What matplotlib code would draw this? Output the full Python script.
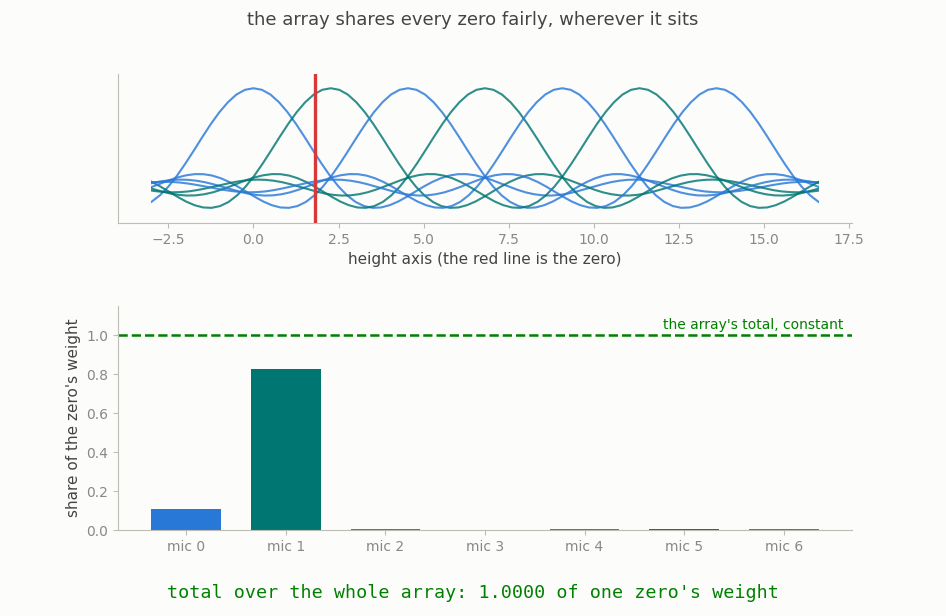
import numpy as np
import matplotlib
matplotlib.use("Agg")
import matplotlib.pyplot as plt
from matplotlib.patches import Rectangle


# mic positions along the height axis (peak of each response curve)
MIC_CENTERS = [0.0, 2.27, 4.54, 6.80, 9.07, 11.34, 13.60]
X_START, X_END = -3.0, 16.6
ZERO_X = 1.81          # where the red line sits
ZERO_GAP = 2.5         # distance from a peak to its first zero crossing

# shape of one mic's response, one value per 0.1 zero-gaps
PROFILE_STEP = 0.1
PROFILE = [
    1.000, 0.984, 0.936, 0.858, 0.757, 0.637, 0.505, 0.368, 0.234, 0.109,
    0.000, -0.089, -0.156, -0.198, -0.216, -0.212, -0.189, -0.152, -0.104, -0.052,
    0.000, 0.047, 0.085, 0.112, 0.126, 0.127, 0.116, 0.095, 0.067, 0.034,
    0.000, -0.032, -0.059, -0.078, -0.089, -0.091, -0.084, -0.070, -0.049, -0.025,
    0.000, 0.024, 0.045, 0.060, 0.069, 0.071, 0.066, 0.055, 0.039, 0.020,
    0.000, -0.019, -0.036, -0.049, -0.056, -0.058, -0.054, -0.045, -0.032, -0.017,
    0.000, 0.016, 0.030, 0.041, 0.047, 0.049, 0.046, 0.038, 0.028,
]

MIC_LABELS = ["mic 0", "mic 1", "mic 2", "mic 3", "mic 4", "mic 5", "mic 6"]
SHARES = [0.108, 0.826, 0.005, 0.0, 0.004, 0.004, 0.004]
TOTAL = 1.0

BG = "#fcfcfa"
BLUE = "#2878d8"
TEAL = "#007672"
SPINE = "#bdbdb5"
TICK_TXT = "#888888"
LABEL_TXT = "#444444"


def style_axes(ax):
    ax.set_facecolor(BG)
    for side in ("top", "right"):
        ax.spines[side].set_visible(False)
    for side in ("left", "bottom"):
        ax.spines[side].set_color(SPINE)
    ax.tick_params(colors=SPINE, labelcolor=TICK_TXT, labelsize=10)


fig = plt.figure(figsize=(9.46, 6.16), dpi=100, facecolor=BG)
ax_top = fig.add_axes([0.1247, 0.638, 0.7759, 0.2419])
ax_bar = fig.add_axes([0.1247, 0.1396, 0.7759, 0.3636])

# --- top: every mic's response curve -------------------------------------
t = np.arange(len(PROFILE)) * PROFILE_STEP
prof = np.array(PROFILE)
full_t = np.concatenate([-t[:0:-1], t])
full_v = np.concatenate([prof[:0:-1], prof])

style_axes(ax_top)
for i, c in enumerate(MIC_CENTERS):
    colour = BLUE if i % 2 == 0 else TEAL
    line, = ax_top.plot(c + full_t * ZERO_GAP, full_v, color=colour,
                        alpha=0.82, lw=1.5)
    clip = Rectangle((X_START, -2), X_END - X_START, 4, transform=ax_top.transData)
    line.set_clip_path(clip)

ax_top.axvline(ZERO_X, color="#d93838", lw=2.4, zorder=5)
span = X_END - X_START
ax_top.set_xlim(X_START - 0.05 * span, X_END + 0.05 * span)
ax_top.set_ylim(-0.37, 1.145)
ax_top.set_yticks([])
ax_top.set_xlabel("height axis (the red line is the zero)", color=LABEL_TXT,
                  fontsize=11)

# --- bottom: each mic's share of the zero -------------------------------
style_axes(ax_bar)
bar_colours = [BLUE if i % 2 == 0 else TEAL for i in range(len(SHARES))]
ax_bar.bar(range(len(SHARES)), SHARES, width=0.7, color=bar_colours)
ax_bar.set_xticks(range(len(MIC_LABELS)))
ax_bar.set_xticklabels(MIC_LABELS)
ax_bar.axhline(TOTAL, color="green", lw=1.8, ls="--")
ax_bar.text(6.6, TOTAL + 0.015, "the array's total, constant", color="green",
            fontsize=10, ha="right", va="bottom")
ax_bar.set_ylim(0, 1.15)
ax_bar.set_yticks([0.0, 0.2, 0.4, 0.6, 0.8, 1.0])
ax_bar.set_ylabel("share of the zero's weight", color=LABEL_TXT, fontsize=11)

fig.text(0.5, 0.967, "the array shares every zero fairly, wherever it sits",
         ha="center", va="center", fontsize=13, color=LABEL_TXT)
fig.text(0.5, 0.03,
         f"total over the whole array: {TOTAL:.4f} of one zero's weight",
         ha="center", va="baseline", fontsize=13.2, color="green",
         family="DejaVu Sans Mono")

fig.savefig("out.png", dpi=100, facecolor=BG)
